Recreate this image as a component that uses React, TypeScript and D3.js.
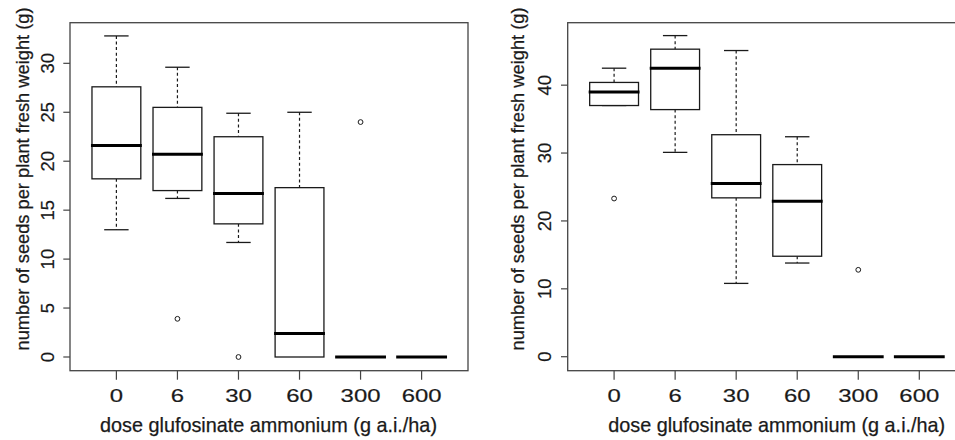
import React from 'react';
import * as d3 from 'd3';

const doses = ['0', '6', '30', '60', '300', '600'];

// left panel: box statistics
const leftLower = [13.0, 16.2, 11.7, 0, 0, 0];
const leftQ1 = [18.2, 17.0, 13.6, 0, 0, 0];
const leftMedian = [21.6, 20.7, 16.7, 2.4, 0, 0];
const leftQ3 = [27.6, 25.5, 22.5, 17.3, 0, 0];
const leftUpper = [32.8, 29.6, 24.9, 25.0, 0, 0];
const leftOutliers = [[], [3.9], [0], [], [24.0], []];
const leftTicks = [0, 5, 10, 15, 20, 25, 30];

// right panel
const rightLower = [37.0, 30.1, 10.8, 13.8, 0, 0];
const rightQ1 = [37.0, 36.4, 23.4, 14.8, 0, 0];
const rightMedian = [39.0, 42.5, 25.5, 22.9, 0, 0];
const rightQ3 = [40.4, 45.3, 32.7, 28.3, 0, 0];
const rightUpper = [42.5, 47.3, 45.1, 32.4, 0, 0];
const rightOutliers = [[23.3], [], [], [], [12.8], []];
const rightTicks = [0, 10, 20, 30, 40];

const yTitle = 'number of seeds per plant fresh weight (g)';
const xTitle = 'dose glufosinate ammonium (g a.i./ha)';

const font = '"Liberation Sans", Arial, Helvetica, sans-serif';
const ink = '#1a1a1a';

const Panel = ({ left, yDomain, ticks, lower, q1, median, q3, upper, outliers, yTitleX, xTitleX }) => {
  const top = 22.7;
  const bottom = 370.7;
  const width = 398;

  const x = d3.scaleLinear().domain([0.24, 6.76]).range([left, left + width]);
  const y = d3.scaleLinear().domain(yDomain).range([bottom, top]);
  const step = x(2) - x(1);
  const half = step * 0.4;
  const cap = half / 2;

  return (
    <g>
      {/* boxes */}
      {doses.map((d, i) => {
        const cx = x(i + 1);
        return (
          <g key={d}>
            <line x1={cx} x2={cx} y1={y(upper[i])} y2={y(q3[i])} stroke={ink} strokeWidth={1.2} strokeDasharray="3,2.6" />
            <line x1={cx} x2={cx} y1={y(q1[i])} y2={y(lower[i])} stroke={ink} strokeWidth={1.2} strokeDasharray="3,2.6" />
            {upper[i] !== q3[i] && (
              <line x1={cx - cap} x2={cx + cap} y1={y(upper[i])} y2={y(upper[i])} stroke={ink} strokeWidth={1.3} />
            )}
            {(lower[i] !== q1[i] || i === 0) && lower[i] !== 0 && (
              <line x1={cx - cap} x2={cx + cap} y1={y(lower[i])} y2={y(lower[i])} stroke={ink} strokeWidth={1.3} />
            )}
            <rect x={cx - half} width={half * 2} y={y(q3[i])} height={y(q1[i]) - y(q3[i])}
              fill="white" stroke={ink} strokeWidth={1.3} />
            <line x1={cx - half - 1} x2={cx + half + 1} y1={y(median[i])} y2={y(median[i])} stroke="#000" strokeWidth={3} />
            {outliers[i].map((v, k) => (
              <circle key={k} cx={cx} cy={y(v)} r={2.4} fill="none" stroke={ink} strokeWidth={1} />
            ))}
          </g>
        );
      })}

      {/* frame */}
      <rect x={left} y={top} width={width} height={bottom - top} fill="none" stroke="#444" strokeWidth={1.3} />

      {/* y axis */}
      {ticks.map(t => (
        <g key={t}>
          <line x1={left - 6.7} x2={left} y1={y(t)} y2={y(t)} stroke="#444" strokeWidth={1.2} />
          <text transform={`translate(${left - 16.5},${y(t)}) rotate(-90)`} textAnchor="middle"
            fontSize={18.5} fill={ink} stroke={ink} strokeWidth={0.2} fontFamily={font}>{t}</text>
        </g>
      ))}

      {/* x axis */}
      {doses.map((d, i) => (
        <g key={d}>
          <line x1={x(i + 1)} x2={x(i + 1)} y1={bottom} y2={bottom + 9} stroke="#444" strokeWidth={1.2} />
          <text x={x(i + 1)} y={401.7} textAnchor="middle" fontSize={18.5} fill={ink} stroke={ink} strokeWidth={0.2}
            fontFamily={font} textLength={13.3 * d.length} lengthAdjust="spacingAndGlyphs">{d}</text>
        </g>
      ))}

      <text x={xTitleX} y={432} textAnchor="middle" fontSize={19.8} fill={ink} stroke={ink} strokeWidth={0.25}
        fontFamily={font} textLength={337} lengthAdjust="spacingAndGlyphs">{xTitle}</text>
      <text transform={`translate(${yTitleX},179) rotate(-90)`} textAnchor="middle" fontSize={18.3}
        fill={ink} stroke={ink} strokeWidth={0.25} fontFamily={font}
        textLength={343} lengthAdjust="spacingAndGlyphs">{yTitle}</text>
    </g>
  );
};

const App = () => (
  <svg width={955} height={440} style={{ position: 'absolute', left: 0, top: 0, background: 'white' }}>
    <rect width={955} height={440} fill="white" />
    <Panel left={70} yDomain={[-1.4, 34.15]} ticks={leftTicks}
      lower={leftLower} q1={leftQ1} median={leftMedian} q3={leftQ3} upper={leftUpper}
      outliers={leftOutliers} yTitleX={28.5} xTitleX={268.5} />
    <Panel left={567.7} yDomain={[-2.06, 49.2]} ticks={rightTicks}
      lower={rightLower} q1={rightQ1} median={rightMedian} q3={rightQ3} upper={rightUpper}
      outliers={rightOutliers} yTitleX={523.5} xTitleX={776.7} />
  </svg>
);

export default App;
